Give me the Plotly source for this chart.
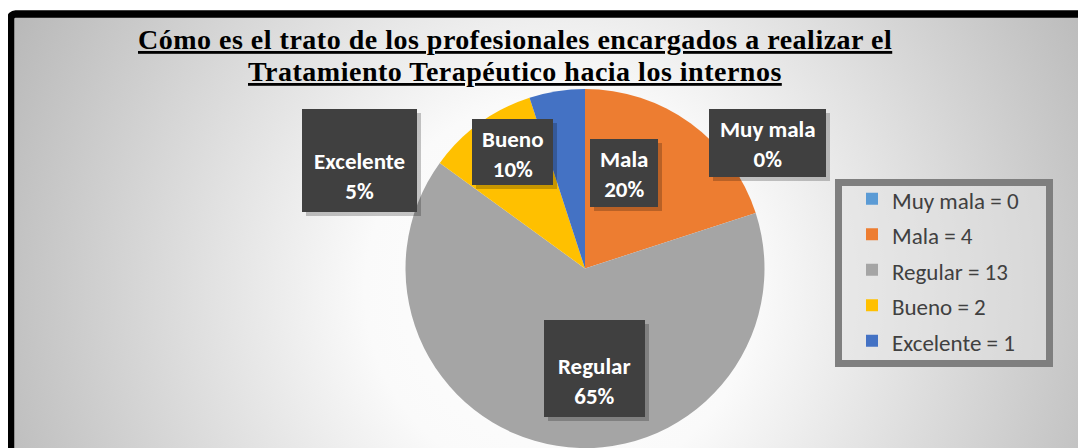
import base64
import plotly.graph_objects as go

# ---- data ----
categories = ["Muy mala", "Mala", "Regular", "Bueno", "Excelente"]
values = [0, 4, 13, 2, 1]
colors = ["#5B9BD5", "#ED7D31", "#A5A5A5", "#FFC000", "#4472C4"]
title_lines = ["Cómo es el trato de los profesionales encargados a realizar el",
               "Tratamiento Terapéutico hacia los internos"]

# the page body has an 8px margin; figure fills the rest of the 1086x448 window
OFF = 8
W, H = 1086 - OFF, 448 - OFF
def px(x): return (x - OFF) / W          # screen x -> paper
def py(y): return 1 - (y - OFF) / H      # screen y -> paper

total = sum(values)
pcts = [round(v / total * 100) for v in values]
legend_names = [f"<span style='font-size:23px'>{c} = {v}</span>" for c, v in zip(categories, values)]

# background: radial gradient + black frame (figure coordinates)
svg = f"""<svg xmlns='http://www.w3.org/2000/svg' width='{W}' height='{H}' viewBox='0 0 {W} {H}' preserveAspectRatio='none'>
<defs><radialGradient id='g' gradientUnits='userSpaceOnUse' cx='552' cy='282' r='650'>
<stop offset='0' stop-color='#ffffff'/><stop offset='0.3' stop-color='#fafafa'/><stop offset='1' stop-color='#b2b2b2'/>
</radialGradient></defs>
<rect x='0' y='0' width='{W}' height='{H}' fill='#ffffff'/>
<rect x='2.5' y='6' width='1200' height='700' rx='5' fill='url(#g)' stroke='#000000' stroke-width='7.5'/>
</svg>"""
src = "data:image/svg+xml;base64," + base64.b64encode(svg.encode("utf-8")).decode()

fig = go.Figure()
fig.add_trace(go.Pie(
    labels=legend_names, values=values, sort=False, direction="clockwise", rotation=0,
    marker=dict(colors=colors, line=dict(width=0)), textinfo="none", hoverinfo="skip",
    domain=dict(x=[px(405.5), px(764.5)], y=[0, py(89)]),
))

# data label boxes (screen layout: box center x, box center y, width, height, text center y)
box_pos = {
    "Muy mala": (767.5, 143, 117, 68, 144),
    "Mala": (624, 173, 68, 68, 173.5),
    "Regular": (594.5, 368.5, 101, 97, 381),
    "Bueno": (512.5, 152, 81, 66, 154),
    "Excelente": (359.5, 160.5, 115, 103, 176),
}
shapes = []
annotations = []
for c, p in zip(categories, pcts):
    cx, cy, bw, bh, ty = box_pos[c]
    shapes.append(dict(type="rect", xref="paper", yref="paper", layer="above",
                       x0=px(cx - bw / 2 + 4), x1=px(cx + bw / 2 + 4),
                       y0=py(cy + bh / 2 + 4), y1=py(cy - bh / 2 + 4),
                       fillcolor="rgba(0,0,0,0.22)", line=dict(width=0)))
    shapes.append(dict(type="rect", xref="paper", yref="paper", layer="above",
                       x0=px(cx - bw / 2), x1=px(cx + bw / 2),
                       y0=py(cy + bh / 2), y1=py(cy - bh / 2),
                       fillcolor="#404040", line=dict(width=0)))
    annotations.append(dict(
        xref="paper", yref="paper", x=px(cx), y=py(ty), xanchor="center", yanchor="middle",
        text=f"<b>{c}</b><br><b>{p}%</b>", showarrow=False, align="center",
        font=dict(family="Carlito, Lato, sans-serif", size=23, color="#ffffff"),
    ))

# title lines
for t, yy in zip(title_lines, [57.5, 89]):
    annotations.append(dict(
        xref="paper", yref="paper", x=px(515), y=py(yy), xanchor="center", yanchor="bottom",
        text=f"<b><span style='letter-spacing:0.5px'><u>{t}</u></span></b>",
        showarrow=False,
        font=dict(family="Liberation Serif, Times New Roman, serif", size=28, color="#000000"),
    ))

# legend frame
shapes.append(dict(type="rect", xref="paper", yref="paper", layer="above",
                   x0=px(838.5), x1=px(1049.5), y0=py(363.5), y1=py(182.5),
                   fillcolor="rgba(228,228,228,0.5)", line=dict(color="#7F7F7F", width=7)))

fig.update_layout(
    width=W, height=H, margin=dict(l=0, r=0, t=0, b=0),
    paper_bgcolor="#ffffff", plot_bgcolor="rgba(0,0,0,0)",
    images=[dict(source=src, xref="paper", yref="paper", x=0, y=1, sizex=1, sizey=1,
                 sizing="stretch", layer="below", xanchor="left", yanchor="top")],
    showlegend=True,
    legend=dict(x=px(852), y=py(176), xanchor="left", yanchor="top",
                bgcolor="rgba(0,0,0,0)", borderwidth=0, traceorder="normal",
                font=dict(family="Carlito, Lato, sans-serif", size=25, color="#404040")),
    shapes=shapes, annotations=annotations,
)

fig.write_html("out.html")
